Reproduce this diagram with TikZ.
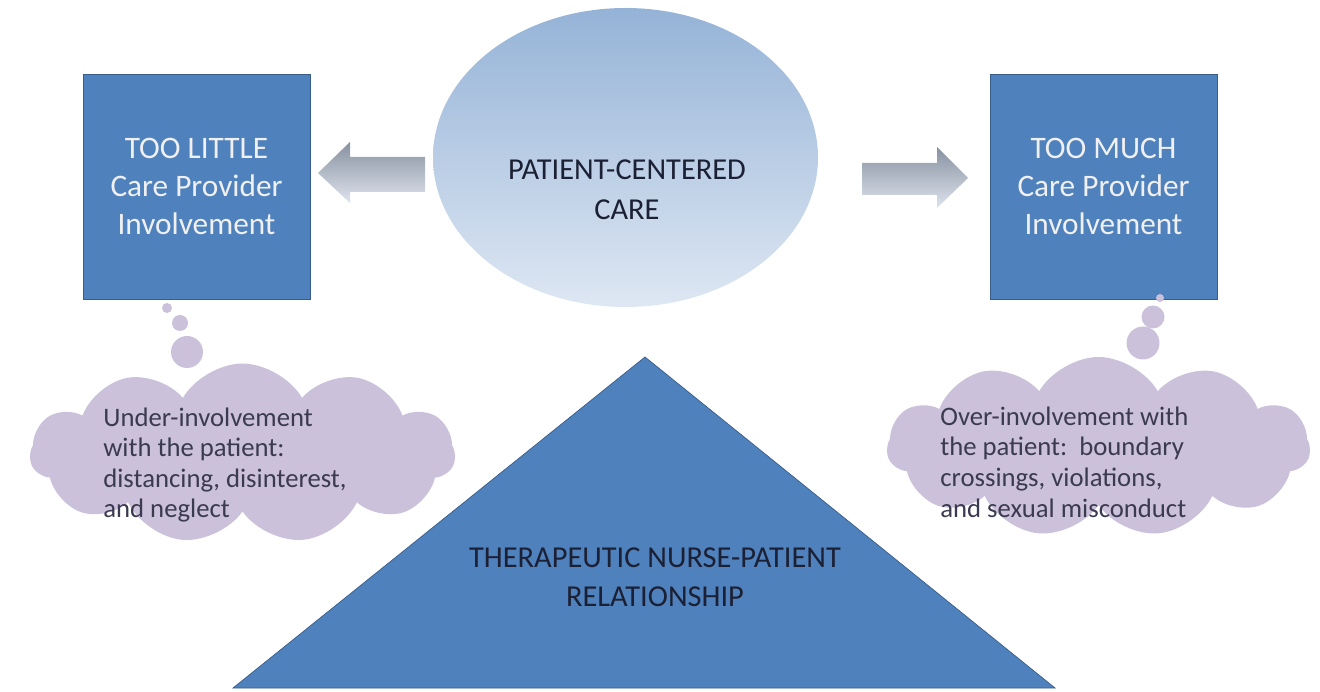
\documentclass[tikz,border=0pt]{standalone}
\usepackage{fontspec}
\setmainfont{Carlito}
\usepackage{tikz}
\usetikzlibrary{positioning,shapes.geometric,shapes.symbols}
\usepackage{xcolor}
\definecolor{boxblue}{RGB}{79,129,189}
\definecolor{boxline}{RGB}{56,93,138}
\definecolor{ovaltop}{RGB}{149,179,215}
\definecolor{ovalbot}{RGB}{222,231,243}
\definecolor{arrtop}{RGB}{135,145,160}
\definecolor{arrbot}{RGB}{222,228,238}
\definecolor{lilac}{RGB}{204,193,218}
\definecolor{cloudtext}{RGB}{58,58,80}
\definecolor{darktext}{RGB}{28,32,52}

\begin{document}
\begin{tikzpicture} [
	carebox/.style={draw=boxline, fill=boxblue, minimum width=4.54cm, minimum height=4.5cm, align=center, text=white!94!black, font=\fontsize{17.8}{21.6}\selectfont},
	thought/.style={cloud, cloud puffs=11, cloud puff arc=120, cloud ignores aspect, fill=lilac, minimum width=8.5cm, minimum height=3.6cm},
	thoughttext/.style={anchor=west, align=left, inner sep=0pt, text=cloudtext, font=\fontsize{15.2}{17.4}\selectfont},
	blockarrow/.style={top color=arrtop, bottom color=arrbot, draw=none},
	caps/.style={align=center, text=darktext, font=\fontsize{17.3}{22.6}\selectfont}
	]
	\useasboundingbox (0, 0) rectangle (26.4, 13.82);
	\node [carebox] (little) at (3.93, 10.09) {TOO LITTLE\\Care Provider\\Involvement};
	\node [carebox] (much) at (22.07, 10.09) {TOO MUCH\\Care Provider\\Involvement};
	\node [ellipse, top color=ovaltop, bottom color=ovalbot, minimum width=7.7cm, minimum height=5.98cm] (pcc) at (12.51, 10.67) {};
	\node [caps] (pcctext) at (12.54, 10.02) {PATIENT-CENTERED\\CARE};
	\shade [blockarrow] (8.5, 10.68)--(7.0, 10.68)--(7.0, 10.98)--(6.36, 10.36)--(7.0, 9.76)--(7.0, 9.98)--(8.5, 9.98)--cycle;
	\shade [blockarrow] (17.24, 10.56)--(18.74, 10.56)--(18.74, 10.88)--(19.36, 10.26)--(18.74, 9.66)--(18.74, 9.92)--(17.24, 9.92)--cycle;
	\filldraw [fill=boxblue, draw=boxline] (12.9, 6.68)--(21.1, 0.06)--(4.66, 0.06)--cycle;
	\node [caps, font=\fontsize{17.3}{22.2}\selectfont] (tnpr) at (13.1, 2.28) {THERAPEUTIC NURSE-PATIENT\\RELATIONSHIP};
	\node [thought] (under) at (4.85, 4.75) {};
	\node [thought, minimum width=8.46cm] (over) at (21.97, 4.88) {};
	\fill [lilac] (3.34, 7.66) circle (0.1);
	\fill [lilac] (3.6, 7.36) circle (0.16);
	\fill [lilac] (3.74, 6.78) circle (0.32);
	\fill [lilac] (23.2, 7.86) circle (0.08);
	\fill [lilac] (23.06, 7.48) circle (0.23);
	\fill [lilac] (22.86, 6.96) circle (0.33);
	\node [thoughttext] (undertext) at (2.06, 4.52) {Under-involvement\\with the patient:\\distancing, disinterest,\\and neglect};
	\node [thoughttext] (overtext) at (18.8, 4.58) {Over-involvement with\\the patient:\ \ boundary\\crossings, violations,\\and sexual misconduct};
\end{tikzpicture}
\end{document}
